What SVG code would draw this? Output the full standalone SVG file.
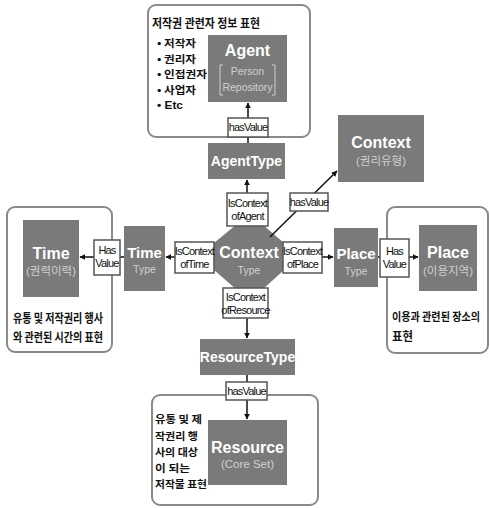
<svg xmlns="http://www.w3.org/2000/svg" width="490" height="508" viewBox="0 0 490 508">
<defs>
<marker id="ah" viewBox="0 0 10 10" refX="9" refY="5" markerWidth="6" markerHeight="6" orient="auto" markerUnits="userSpaceOnUse">
<path d="M0,0 L10,5 L0,10 z" fill="#111"/>
</marker>
<style>
.outer{fill:#fff;stroke:#8a8a8a;stroke-width:2}
.gray{fill:#7a7a7a}
.lbl{fill:#fff;stroke:#555;stroke-width:1.5}
.w{fill:#fff;font-family:"Liberation Sans",Arial,sans-serif;font-weight:bold;text-anchor:middle}
.lt{fill:#d0d0d0;font-family:"Liberation Sans","Noto Sans CJK KR",sans-serif;text-anchor:middle}
.lb{fill:#111;font-family:"Liberation Sans",Arial,sans-serif;font-size:11px;text-anchor:middle;letter-spacing:-0.8px}
.kr{fill:#111;font-family:"Noto Sans CJK KR","Liberation Sans",sans-serif;font-weight:bold;font-size:12.5px}
.kb{fill:#111;font-family:"Noto Sans CJK KR","Liberation Sans",sans-serif;font-weight:bold;font-size:10.5px}
.ln{stroke:#111;stroke-width:1.5;fill:none}
.br{stroke:#cfcfcf;stroke-width:1;fill:none}
</style>
</defs>
<rect width="490" height="508" fill="#fff"/>

<g id="agent-group">
<rect class="outer" x="148" y="5" width="162" height="132" rx="8"/>
<text class="kr" x="152" y="28" textLength="108" lengthAdjust="spacingAndGlyphs">저작권 관련자 정보 표현</text>
<text class="kb" x="157" y="47" textLength="39" lengthAdjust="spacingAndGlyphs">• 저작자</text>
<text class="kb" x="157" y="62.5" textLength="39" lengthAdjust="spacingAndGlyphs">• 권리자</text>
<text class="kb" x="157" y="78" textLength="50" lengthAdjust="spacingAndGlyphs">• 인접권자</text>
<text class="kb" x="157" y="93.5" textLength="39" lengthAdjust="spacingAndGlyphs">• 사업자</text>
<text class="kb" x="157" y="109" textLength="26" lengthAdjust="spacingAndGlyphs" style="font-family:'Liberation Sans',sans-serif;font-size:11.5px">• Etc</text>
<g id="agent">
<rect class="gray" x="208" y="35" width="79" height="67"/>
<text class="w" x="247.5" y="56" font-size="16">Agent</text>
<path class="br" d="M223,65 h-3 v30 h3 M272,65 h3 v30 h-3"/>
<text class="lt" x="247.5" y="75" font-size="10.5">Person</text>
<text class="lt" x="247.5" y="91" font-size="10.5">Repository</text>
</g>
</g>

<g id="time-group">
<rect class="outer" x="7" y="207" width="105" height="145" rx="8"/>
<g id="time">
<rect class="gray" x="23" y="220" width="56" height="77"/>
<text class="w" x="51" y="259" font-size="16">Time</text>
<text class="lt" x="51" y="275" font-size="11.5">(권력이력)</text>
</g>
<text class="kr" x="13" y="323" textLength="90" lengthAdjust="spacingAndGlyphs">유통 및 저작권리 행사</text>
<text class="kr" x="13" y="342" textLength="90" lengthAdjust="spacingAndGlyphs">와 관련된 시간의 표현</text>
</g>

<g id="place-group">
<rect class="outer" x="387" y="207" width="101" height="146" rx="8"/>
<g id="place">
<rect class="gray" x="419" y="225" width="58" height="66"/>
<text class="w" x="448" y="258" font-size="16">Place</text>
<text class="lt" x="448" y="275" font-size="11.5">(이용지역)</text>
</g>
<text class="kr" x="392" y="321" textLength="88" lengthAdjust="spacingAndGlyphs" style="font-size:11px">이용과 관련된 장소의</text>
<text class="kr" x="392" y="341" textLength="21" lengthAdjust="spacingAndGlyphs">표현</text>
</g>

<g id="resource-group">
<rect class="outer" x="152" y="395" width="166" height="110" rx="8"/>
<text class="kb" x="155" y="423" textLength="47" lengthAdjust="spacingAndGlyphs">유통 및 제</text>
<text class="kb" x="155" y="440" textLength="43" lengthAdjust="spacingAndGlyphs">작권리 행</text>
<text class="kb" x="155" y="456" textLength="43" lengthAdjust="spacingAndGlyphs">사의 대상</text>
<text class="kb" x="155" y="472" textLength="35" lengthAdjust="spacingAndGlyphs">이 되는</text>
<text class="kb" x="155" y="488" textLength="52" lengthAdjust="spacingAndGlyphs">저작물 표현</text>
<g id="resource">
<rect class="gray" x="208" y="420" width="79" height="65"/>
<text class="w" x="247.5" y="453" font-size="16">Resource</text>
<text class="lt" x="247.5" y="468" font-size="11.5">(Core Set)</text>
</g>
</g>

<g id="agenttype">
<rect class="gray" x="208" y="143" width="77" height="36"/>
<text class="w" x="246.5" y="166" font-size="14">AgentType</text>
</g>

<g id="context">
<rect class="gray" x="338" y="115" width="86" height="67"/>
<text class="w" x="381" y="148" font-size="16">Context</text>
<text class="lt" x="381" y="165" font-size="11.5">(권리유형)</text>
</g>

<g id="timetype">
<rect class="gray" x="124" y="226" width="41" height="65"/>
<text class="w" x="144.5" y="258" font-size="15">Time</text>
<text class="lt" x="144.5" y="273" font-size="10.5">Type</text>
</g>

<g id="placetype">
<rect class="gray" x="334" y="228" width="44" height="59"/>
<text class="w" x="356" y="259" font-size="15">Place</text>
<text class="lt" x="356" y="275" font-size="10.5">Type</text>
</g>

<g id="resourcetype">
<rect class="gray" x="200" y="339" width="95" height="36"/>
<text class="w" x="247.5" y="362" font-size="14">ResourceType</text>
</g>

<g id="contexttype">
<polygon class="gray" points="237,224 262,224 284,243 284,270 262,290 237,290 214,270 214,243"/>
<text class="w" x="249" y="258" font-size="16">Context</text>
<text class="lt" x="249" y="274" font-size="10.5">Type</text>
</g>

<g id="connectors">
<line class="ln" x1="248" y1="143" x2="248" y2="137"/>
<line class="ln" x1="248" y1="118" x2="248" y2="103" marker-end="url(#ah)"/>
<line class="ln" x1="247" y1="193" x2="247" y2="180" marker-end="url(#ah)"/>
<line class="ln" x1="270" y1="237" x2="337" y2="171" marker-end="url(#ah)"/>
<line class="ln" x1="175" y1="257" x2="166" y2="257" marker-end="url(#ah)"/>
<line class="ln" x1="124" y1="257" x2="120" y2="257"/>
<line class="ln" x1="94" y1="257" x2="80" y2="257" marker-end="url(#ah)"/>
<line class="ln" x1="322" y1="257" x2="333" y2="257" marker-end="url(#ah)"/>
<line class="ln" x1="378" y1="257" x2="380" y2="257"/>
<line class="ln" x1="409" y1="257" x2="418" y2="257" marker-end="url(#ah)"/>
<line class="ln" x1="247" y1="318" x2="247" y2="338" marker-end="url(#ah)"/>
<line class="ln" x1="247" y1="375" x2="247" y2="382"/>
<line class="ln" x1="247" y1="400" x2="247" y2="419" marker-end="url(#ah)"/>

<g id="lbl-agent-hasvalue">
<rect class="lbl" x="228" y="118" width="40" height="19"/>
<text class="lb" x="248" y="131">hasValue</text>
</g>
<g id="lbl-isctx-agent">
<rect class="lbl" x="227" y="193" width="41" height="33"/>
<text class="lb" x="247.5" y="207">IsContext</text>
<text class="lb" x="247.5" y="220">ofAgent</text>
</g>
<g id="lbl-ctx-hasvalue">
<rect class="lbl" x="290" y="193" width="38" height="18"/>
<text class="lb" x="309" y="206">hasValue</text>
</g>
<g id="lbl-isctx-time">
<rect class="lbl" x="175" y="242" width="39" height="31"/>
<text class="lb" x="194.5" y="255">IsContext</text>
<text class="lb" x="194.5" y="268">ofTime</text>
</g>
<g id="lbl-time-hasvalue">
<rect class="lbl" x="94" y="240" width="26" height="35"/>
<text class="lb" x="107" y="254">Has</text>
<text class="lb" x="107" y="267">Value</text>
</g>
<g id="lbl-isctx-place">
<rect class="lbl" x="283" y="242" width="39" height="31"/>
<text class="lb" x="302.5" y="255">IsContext</text>
<text class="lb" x="302.5" y="268">ofPlace</text>
</g>
<g id="lbl-place-hasvalue">
<rect class="lbl" x="380" y="239" width="29" height="38"/>
<text class="lb" x="394.5" y="255">Has</text>
<text class="lb" x="394.5" y="268">Value</text>
</g>
<g id="lbl-isctx-resource">
<rect class="lbl" x="223" y="288" width="45" height="30"/>
<text class="lb" x="245.5" y="301">IsContext</text>
<text class="lb" x="245.5" y="314">ofResource</text>
</g>
<g id="lbl-resource-hasvalue">
<rect class="lbl" x="226" y="382" width="41" height="18"/>
<text class="lb" x="246.5" y="395">hasValue</text>
</g>
</g>
</svg>
